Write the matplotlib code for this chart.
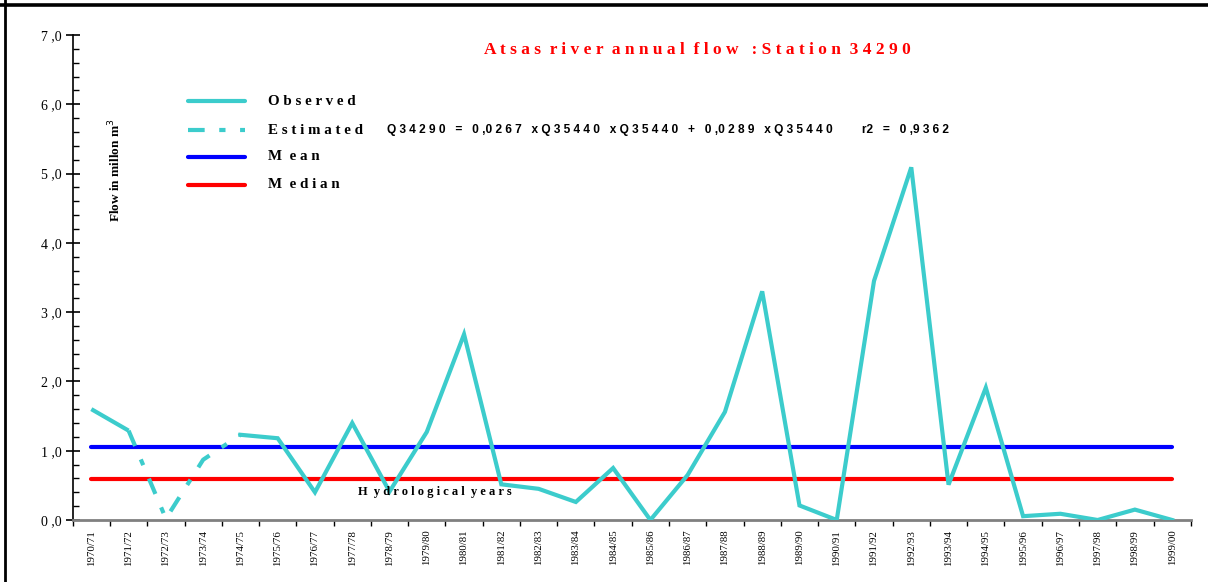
import matplotlib
matplotlib.use("Agg")
import matplotlib.pyplot as plt
from matplotlib.lines import Line2D
from matplotlib.ticker import MultipleLocator, FixedLocator

# Hydrological years and annual flow (million m3) at station 34290
years = ["1970/71", "1971/72", "1972/73", "1973/74", "1974/75", "1975/76",
         "1976/77", "1977/78", "1978/79", "1979/80", "1980/81", "1981/82",
         "1982/83", "1983/84", "1984/85", "1985/86", "1986/87", "1987/88",
         "1988/89", "1989/90", "1990/91", "1991/92", "1992/93", "1993/94",
         "1994/95", "1995/96", "1996/97", "1997/98", "1998/99", "1999/00"]
observed_head = [1.60, 1.29]
estimated = [1.29, 0.02, 0.87, 1.23]
observed_tail = [1.23, 1.18, 0.40, 1.40, 0.41, 1.27, 2.68, 0.515, 0.45,
                 0.26, 0.75, 0.00, 0.65, 1.56, 3.30, 0.21, 0.00, 3.45,
                 5.09, 0.51, 1.91, 0.055, 0.09, 0.00, 0.15, 0.00]
mean_flow = 1.05
median_flow = 0.59
ytick_labels = ["0,0", "1,0", "2,0", "3,0", "4,0", "5,0", "6,0", "7,0"]

CYAN = "#3ccccc"
SERIF = "Liberation Serif"


def spaced(s):
    return " ".join(s)


fig = plt.figure(figsize=(12.08, 5.82), dpi=100)
ax = fig.add_axes([72.7 / 1208, 1 - 520 / 582, (1190.8 - 72.7) / 1208, (520 - 35) / 582])

x = list(range(len(years)))
lw = 3.0
ax.plot(x[0:2], observed_head, color=CYAN, lw=lw, solid_capstyle="butt", zorder=3)
ax.plot(x[1:5], estimated, color=CYAN, lw=lw, dashes=(4, 3.5, 1.5, 3.5), zorder=3)
ax.plot(x[4:], observed_tail, color=CYAN, lw=lw, solid_joinstyle="miter", zorder=3)
ax.plot([x[0], x[-1]], [mean_flow, mean_flow], color="#0000ff", lw=lw,
        solid_capstyle="round", zorder=2)
ax.plot([x[0], x[-1]], [median_flow, median_flow], color="#ff0000", lw=lw,
        solid_capstyle="round", zorder=2)

ax.set_xlim(-0.5, len(years) - 0.5)
ax.set_ylim(0, 7)
for s in ("top", "right"):
    ax.spines[s].set_visible(False)
ax.spines["left"].set_color("black")
ax.spines["left"].set_linewidth(1.2)
ax.spines["bottom"].set_color("#808080")
ax.spines["bottom"].set_linewidth(2.0)

ax.yaxis.set_major_locator(MultipleLocator(1))
ax.yaxis.set_minor_locator(MultipleLocator(0.2))
ax.set_yticks(range(8))
ax.set_yticklabels([spaced(t.split(",")[0]) + " ," + t.split(",")[1] for t in ytick_labels],
                   family=SERIF, fontsize=10)
ax.tick_params(axis="y", which="major", direction="inout", length=10, width=1.2, pad=3)
ax.tick_params(axis="y", which="minor", direction="in", length=4, width=1.0)

ax.xaxis.set_major_locator(FixedLocator([i - 0.5 for i in range(len(years) + 1)]))
ax.xaxis.set_minor_locator(FixedLocator(x))
ax.set_xticklabels([])
ax.set_xticklabels(years, minor=True, rotation=90, family=SERIF, fontsize=7.8)
ax.tick_params(axis="x", which="major", direction="out", length=4, width=1.0, color="black")
ax.tick_params(axis="x", which="minor", length=0, pad=7)
for lab in ax.get_xticklabels(minor=True):
    lab.set_verticalalignment("top")

# Title and regression equation
fig.text(697 / 1208, 1 - 50 / 582, "A t s a s  r i v e r  a n n u a l  f l o w   : S t a t i o n  3 4 2 9 0",
         color="#ff0000", family=SERIF, fontweight="bold", fontsize=12.5,
         ha="center", va="center")
fig.text(387 / 1208, 1 - 130 / 582,
         "Q 3 4 2 9 0   =   0 ,0 2 6 7   x Q 3 5 4 4 0   x Q 3 5 4 4 0   +   0 ,0 2 8 9   x Q 3 5 4 4 0         r2   =   0 ,9 3 6 2",
         family="Liberation Sans", fontweight="bold", fontsize=8.6, ha="left", va="center")

# Legend drawn as lines with spaced labels
legend_items = [("O b s e r v e d", dict(color=CYAN)),
                ("E s t i m a t e d", dict(color=CYAN, dashes=(4, 3.5, 1.5, 3.5))),
                ("M  e a n", dict(color="#0000ff")),
                ("M  e d i a n", dict(color="#ff0000"))]
legend_y = [101, 130, 157, 185]
for (label, style), yy in zip(legend_items, legend_y):
    fy = 1 - yy / 582
    fig.add_artist(Line2D([188 / 1208, 245 / 1208], [fy, fy], lw=lw,
                          solid_capstyle="round", transform=fig.transFigure, **style))
    fig.text(268 / 1208, fy, label, family=SERIF, fontweight="bold", fontsize=10.8,
             ha="left", va="center")

# Axis titles
fig.text(115 / 1208, 1 - 170 / 582, "Flow in millon m$^3$", rotation=90, family=SERIF,
         fontweight="bold", fontsize=9.5, ha="center", va="center")
fig.text(435 / 1208, 1 - 492 / 582, "H  y d r o l o g i c a l  y e a r s", family=SERIF,
         fontweight="bold", fontsize=9, ha="center", va="center")

# Frame on the top and left edges
fig.add_artist(Line2D([0, 1], [1 - 4.5 / 582, 1 - 4.5 / 582], color="black", lw=2.6,
                      transform=fig.transFigure))
fig.add_artist(Line2D([4.5 / 1208, 4.5 / 1208], [0, 1], color="black", lw=2.0,
                      transform=fig.transFigure))

fig.savefig("out.png", dpi=100)
